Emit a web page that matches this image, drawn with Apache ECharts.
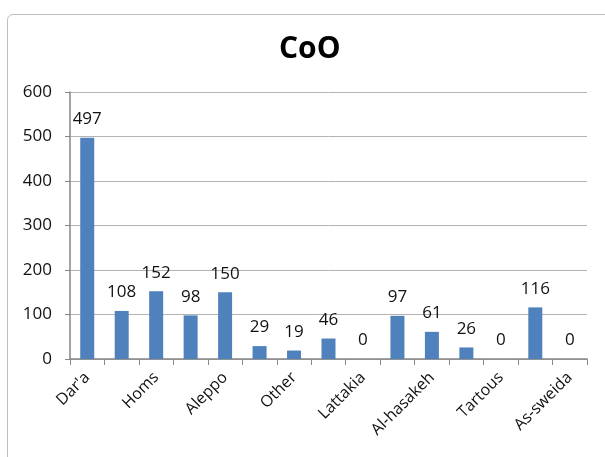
<!DOCTYPE html>
<html><head><meta charset="utf-8">
<script src="https://cdn.jsdelivr.net/npm/echarts@6/dist/echarts.min.js"></script>
<style>html,body{margin:0;padding:0;background:#fff}#frame{position:absolute;left:7px;top:14px;width:620px;height:460px;border:1px solid #bfbfbf;border-radius:6px;box-sizing:border-box}#c{position:absolute;left:0;top:0;width:605px;height:457px}</style>
</head><body><div id="frame"></div><div id="c"></div>
<script>
const categories = ["Dar'a", "", "Homs", "", "Aleppo", "", "Other", "", "Lattakia", "", "Al-hasakeh", "", "Tartous", "", "As-sweida"];
const values = [497, 108, 152, 98, 150, 29, 19, 46, 0, 97, 61, 26, 0, 116, 0];
const yTicks = [0, 100, 200, 300, 400, 500, 600];
const title = "CoO";

const chart = echarts.init(document.getElementById('c'), null, {renderer: 'canvas'});
const font = "'Open Sans', 'Noto Sans', sans-serif";
chart.setOption({
  animation: false,
  title: {text: title, left: 274, top: 29, textStyle: {fontFamily: font, fontWeight: 'bold', fontSize: 30, color: '#000'}},
  grid: {left: 70, right: 18, top: 92, bottom: 98},
  xAxis: {
    type: 'category', data: categories,
    axisLine: {lineStyle: {color: '#868686', width: 1.5}},
    axisTick: {show: true, interval: 0, length: 6, lineStyle: {color: '#868686'}},
    axisLabel: {interval: 1, rotate: 45, margin: 16, fontFamily: font, fontSize: 16, color: '#111'}
  },
  yAxis: {
    type: 'value', min: yTicks[0], max: yTicks[yTicks.length - 1], interval: 100,
    axisLine: {show: true, lineStyle: {color: '#868686', width: 1.5}},
    axisTick: {show: true, length: 5, lineStyle: {color: '#868686'}},
    splitLine: {lineStyle: {color: '#b3b3b3', width: 1}},
    axisLabel: {margin: 18, fontFamily: font, fontSize: 17, color: '#111'}
  },
  series: [{
    type: 'bar', data: values, barWidth: 14,
    itemStyle: {color: '#4f81bd'},
    label: {show: true, position: 'top', distance: 10, fontFamily: font, fontSize: 17, color: '#111'}
  }]
});
</script></body></html>
